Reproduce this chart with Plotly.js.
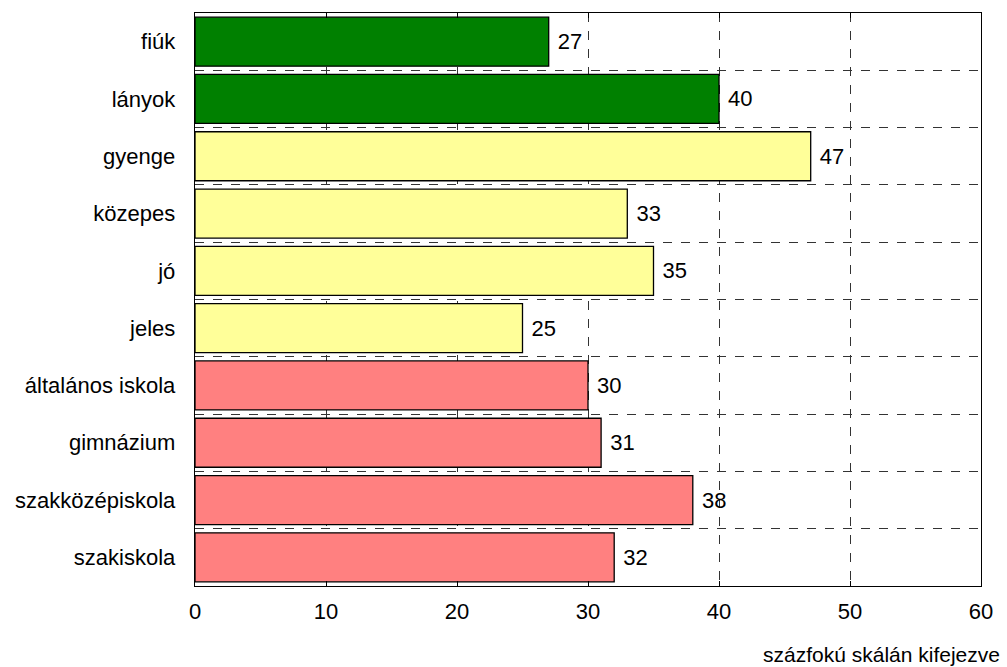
<!DOCTYPE html>
<html>
<head>
<meta charset="utf-8">
<script src="https://cdn.plot.ly/plotly-3.0.1.min.js"></script>
<style>html,body{margin:0;padding:0;background:#fff}#chart{width:1007px;height:667px}</style>
</head>
<body>
<div id="chart"></div>
<script>
const categories = ["fiúk","lányok","gyenge","közepes","jó","jeles","általános iskola","gimnázium","szakközépiskola","szakiskola"];
const values = [27,40,47,33,35,25,30,31,38,32];
const barColors = ["#008000","#008000","#FFFF99","#FFFF99","#FFFF99","#FFFF99","#FF8080","#FF8080","#FF8080","#FF8080"];
const xTicks = [0,10,20,30,40,50,60];
const axisNote = "százfokú skálán kifejezve";

const FONT = "Liberation Sans, Arial, sans-serif";
const trace = {
  type: "bar",
  orientation: "h",
  y: categories,
  x: values,
  text: values.map(v => "\u00a0" + v),
  textposition: "outside",
  cliponaxis: false,
  textfont: {family: FONT, size: 22, color: "#000"},
  marker: {color: barColors, line: {color: "#000", width: 1.3}},
  hoverinfo: "none"
};
const layout = {
  width: 1007, height: 667,
  margin: {l: 195, r: 26, t: 13, b: 81},
  paper_bgcolor: "#fff", plot_bgcolor: "#fff",
  showlegend: false,
  bargap: 0.145,
  font: {family: FONT, size: 22, color: "#000"},
  xaxis: {
    range: [0, 60], tickvals: xTicks, ticktext: xTicks.map(String),
    showgrid: true, gridcolor: "#333", griddash: "dash", gridwidth: 1,
    zeroline: false, showline: true, linecolor: "#000", linewidth: 1.3, mirror: "ticks",
    ticks: "inside", ticklen: 5, tickcolor: "#000", ticklabelstandoff: 5,
    tickfont: {family: FONT, size: 22}
  },
  yaxis: {
    autorange: "reversed", type: "category", tickson: "boundaries",
    showgrid: true, gridcolor: "#333", griddash: "dash", gridwidth: 1,
    zeroline: false, showline: true, linecolor: "#000", linewidth: 1.3, mirror: true,
    ticks: "", ticklabelstandoff: 14, tickfont: {family: FONT, size: 22}
  },
  annotations: [{
    text: axisNote, xref: "paper", yref: "paper", x: 1.027, y: -0.12,
    xanchor: "right", yanchor: "middle", showarrow: false,
    font: {family: FONT, size: 21, color: "#000"}
  }]
};
Plotly.newPlot("chart", [trace], layout, {staticPlot: true});
</script>
</body>
</html>
